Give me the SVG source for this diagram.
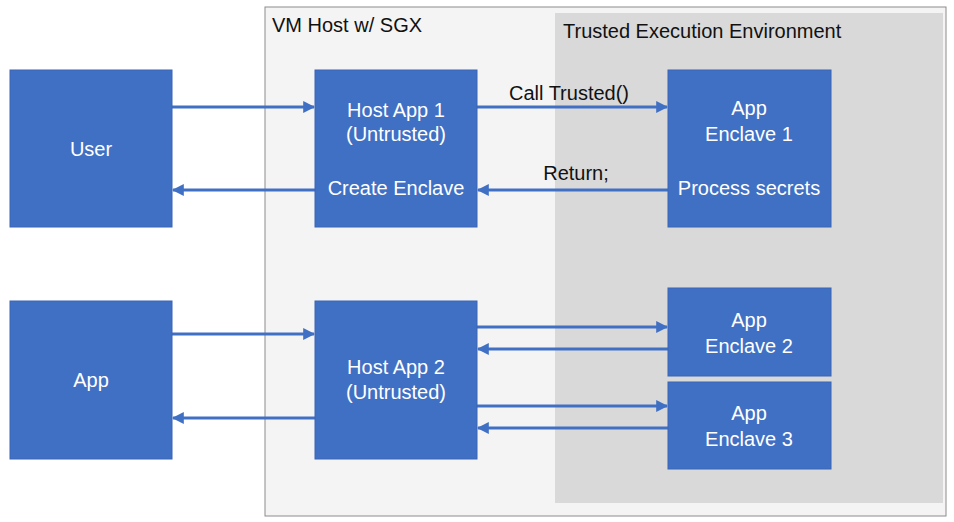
<svg xmlns="http://www.w3.org/2000/svg" width="954" height="522" viewBox="0 0 954 522">
<defs>
<style>
.box{fill:#4070c4;stroke:#3a64b4;stroke-width:1}
.t{font-family:"Liberation Sans",Arial,sans-serif;font-size:20px;fill:#fff;text-anchor:middle}
.l{font-family:"Liberation Sans",Arial,sans-serif;font-size:20px;fill:#111}
.c{stroke:#4070c4;stroke-width:3;fill:none;marker-end:url(#ah)}
</style>
<marker id="ah" viewBox="0 0 10 10" refX="9" refY="5" markerWidth="4" markerHeight="4" orient="auto" markerUnits="strokeWidth">
<path d="M0,0 L10,5 L0,10 z" fill="#4070c4"/>
</marker>
</defs>
<rect width="954" height="522" fill="#fff"/>
<g id="vmhost">
<rect x="265" y="7" width="681" height="509" fill="#f4f4f4" stroke="#8c8c8c" stroke-width="1"/>
<text class="l" x="272" y="32">VM Host w/ SGX</text>
</g>
<g id="tee">
<rect x="555" y="13" width="388" height="490" fill="#d9d9d9"/>
<text class="l" x="563" y="38">Trusted Execution Environment</text>
</g>
<g id="connectors">
<line class="c" x1="172" y1="107" x2="314" y2="107"/>
<line class="c" x1="315" y1="190" x2="173" y2="190"/>
<line class="c" x1="477" y1="107" x2="667" y2="107"/>
<line class="c" x1="668" y1="190" x2="478" y2="190"/>
<line class="c" x1="172" y1="334" x2="314" y2="334"/>
<line class="c" x1="315" y1="418" x2="173" y2="418"/>
<line class="c" x1="477" y1="327" x2="667" y2="327"/>
<line class="c" x1="668" y1="349" x2="478" y2="349"/>
<line class="c" x1="477" y1="406" x2="667" y2="406"/>
<line class="c" x1="668" y1="428" x2="478" y2="428"/>
<text class="l" x="569" y="100" text-anchor="middle">Call Trusted()</text>
<text class="l" x="576" y="180" text-anchor="middle">Return;</text>
</g>
<g id="user">
<rect class="box" x="10" y="70" width="162" height="157"/>
<text class="t" x="91" y="156">User</text>
</g>
<g id="hostapp1">
<rect class="box" x="315" y="70" width="162" height="157"/>
<text class="t" x="396" y="117">Host App 1</text>
<text class="t" x="396" y="141">(Untrusted)</text>
<text class="t" x="396" y="195">Create Enclave</text>
</g>
<g id="enclave1">
<rect class="box" x="668" y="70" width="163" height="157"/>
<text class="t" x="749" y="115">App</text>
<text class="t" x="749" y="141">Enclave 1</text>
<text class="t" x="749" y="195">Process secrets</text>
</g>
<g id="app">
<rect class="box" x="10" y="301" width="162" height="158"/>
<text class="t" x="91" y="387">App</text>
</g>
<g id="hostapp2">
<rect class="box" x="315" y="301" width="162" height="158"/>
<text class="t" x="396" y="374">Host App 2</text>
<text class="t" x="396" y="399">(Untrusted)</text>
</g>
<g id="enclave2">
<rect class="box" x="668" y="288" width="163" height="88"/>
<text class="t" x="749" y="327">App</text>
<text class="t" x="749" y="353">Enclave 2</text>
</g>
<g id="enclave3">
<rect class="box" x="668" y="382" width="163" height="87"/>
<text class="t" x="749" y="420">App</text>
<text class="t" x="749" y="446">Enclave 3</text>
</g>
</svg>
